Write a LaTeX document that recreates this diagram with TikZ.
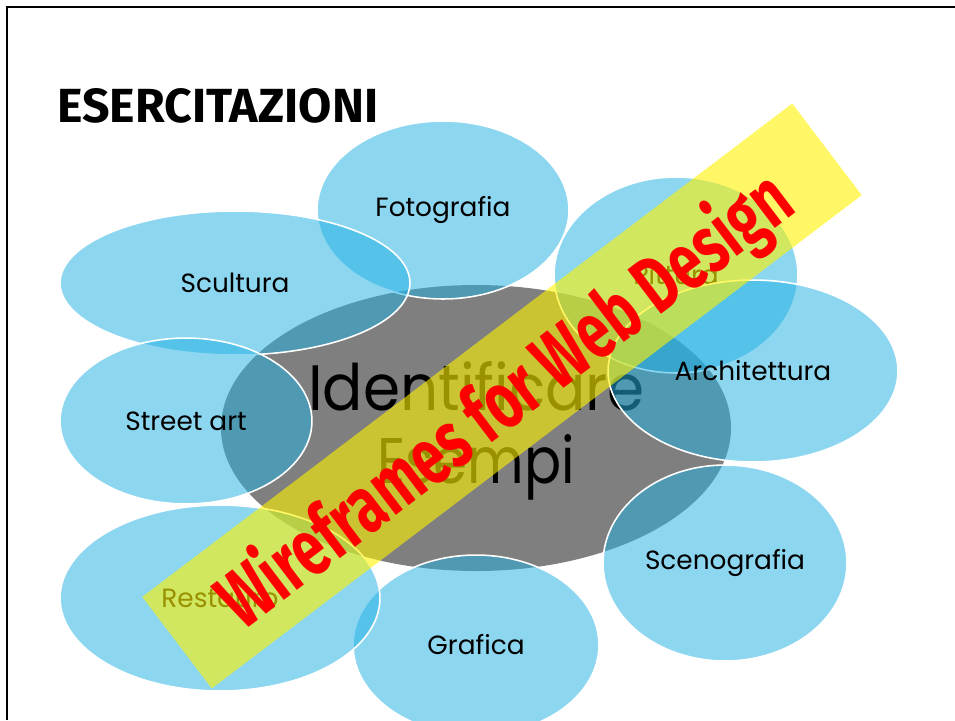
\documentclass[tikz,border=0pt]{standalone}
\usepackage{fontspec}
\setmainfont{Poppins}
\newfontfamily\condfont{Fira Sans}
\usetikzlibrary{shapes.geometric}
\definecolor{bubble}{RGB}{35,177,227}
\definecolor{core}{RGB}{127,127,127}
\tikzset{
  topic/.style 2 args={ellipse, draw=white, line width=0.9pt, fill=bubble,
    fill opacity=0.52, text opacity=1, inner sep=0pt,
    minimum width=#1*0.04cm, minimum height=#2*0.04cm,
    font=\fontsize{15}{18}\selectfont},
  banner/.style={fill=yellow, fill opacity=0.6, inner sep=0pt},
}
\begin{document}
\begin{tikzpicture}[x=0.02cm,y=-0.02cm]
  \useasboundingbox (0,0) rectangle (955,720);
  % slide frame
  \draw[line width=1.5pt] (7,720) -- (7,7) -- (955,7);
  \node[anchor=base west, inner sep=0pt] (title) at (57,122)
    {\resizebox{6.42cm}{0.68cm}{\condfont\bfseries ESERCITAZIONI}};
  % centre
  \node[ellipse, fill=core, inner sep=0pt, minimum width=510*0.02cm,
    minimum height=286*0.02cm] (core) at (476,428) {};
  \node[anchor=base, inner sep=0pt] (line1) at (476.5,410)
    {\resizebox{6.74cm}{0.98cm}{Identificare}};
  \node[anchor=base, inner sep=0pt] (line2) at (476,483)
    {\resizebox{3.96cm}{0.98cm}{Esempi}};
  % topics
  \node[topic={126}{89}] (foto) at (443,210) {Fotografia};
  \node[topic={122}{98}] (pitt) at (676,275) {Pittura};
  \node[topic={145}{91}] (arch) at (753,371) {Architettura};
  \node[topic={175}{72}] (scul) at (235,283) {Scultura};
  \node[topic={126}{83}] (street) at (186,421) {Street art};
  \node[topic={123}{90}] (graf) at (476,645) {Grafica};
  \node[topic={160}{93}] (rest) at (220,598) {Restauro};
  \node[topic={122}{98}] (sceno) at (725,563) {Scenografia};
  % watermark
  \node[banner, rotate=37.2, minimum width=816*0.02cm,
    minimum height=115*0.02cm] (ban) at (502,396) {};
  \node[rotate=37.2, anchor=base, inner sep=0pt, text=red] (mark) at (521,421)
    {\resizebox{13.92cm}{1.3cm}{\condfont\bfseries Wireframes for Web Design}};
\end{tikzpicture}
\end{document}
